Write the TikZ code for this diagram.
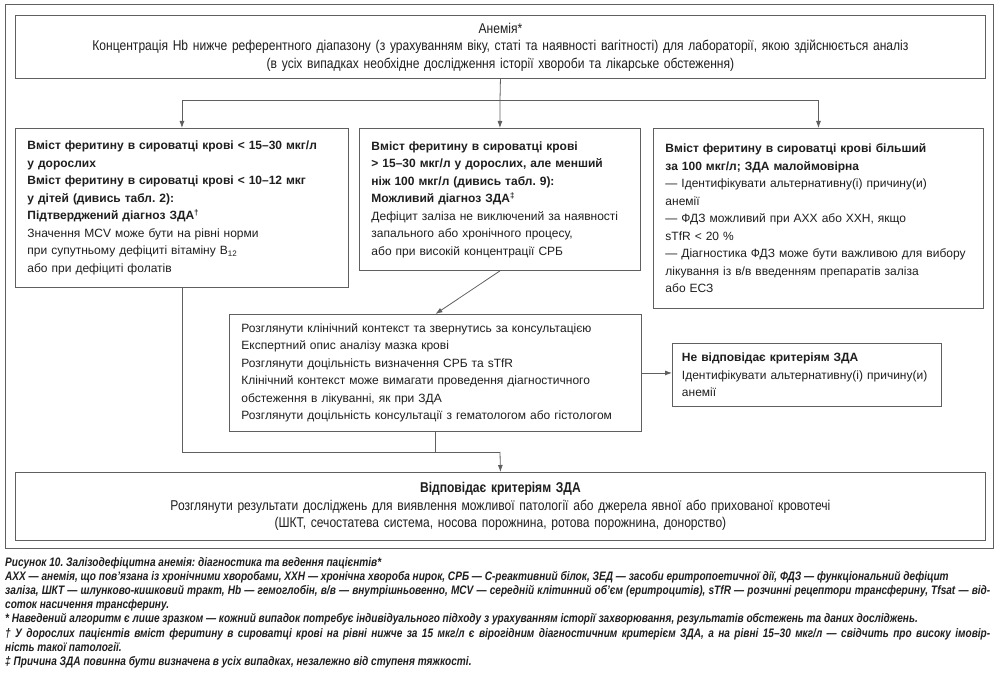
\documentclass[tikz,border=0pt]{standalone}
\usepackage{fontspec}
\setmainfont{Liberation Sans}
\newfontfamily\narrowfont[FakeStretch=0.85]{Liberation Sans}
\newfontfamily\capfont[FakeStretch=0.82]{Liberation Sans}
\usetikzlibrary{arrows.meta,positioning,calc}
\definecolor{BOX-GRAY}{RGB}{95,95,95}
\definecolor{TEXT-DARK}{RGB}{30,30,30}
\frenchspacing

\begin{document}
\begin{tikzpicture}[x=1pt,y=-1pt, >={Latex[length=7pt,width=5pt]},
  box/.style={draw=BOX-GRAY, line width=0.9pt, anchor=north west, inner xsep=12pt, inner ysep=0pt,
    align=left, text=TEXT-DARK, font=\fontsize{12}{17.5}\selectfont},
  wide/.style={draw=BOX-GRAY, line width=0.9pt, anchor=north west, inner sep=0pt, text width=946pt,
    align=center, text=TEXT-DARK, font=\narrowfont\fontsize{14.2}{17.5}\selectfont},
  link/.style={BOX-GRAY, line width=0.8pt}]
  \useasboundingbox (0,0) rectangle (1000,684);

  % Outer frame
  \draw[BOX-GRAY, line width=1pt] (5,5) rectangle (993,548);

  % Anaemia (top box)
  \node[wide, minimum width=970pt, minimum height=63pt] (anemia) at (15,15)
    {Анемія*\\
     Концентрація Hb нижче референтного діапазону (з урахуванням віку, статі та наявності вагітності) для лабораторії, якою здійснюється аналіз\\
     (в усіх випадках необхідне дослідження історії хвороби та лікарське обстеження)};

  % Three ferritin branches
  \node[box, text width=309pt, minimum height=159pt] (low) at (15,128)
    {\textbf{Вміст феритину в сироватці крові < 15–30 мкг/л}\\
     \textbf{у дорослих}\\
     \textbf{Вміст феритину в сироватці крові < 10–12 мкг}\\
     \textbf{у дітей (дивись табл. 2):}\\
     \textbf{Підтверджений діагноз ЗДА\textsuperscript{†}}\\
     Значення MCV може бути на рівні норми\\
     при супутньому дефіциті вітаміну B\textsubscript{12}\\
     або при дефіциті фолатів};
  \node[box, text width=257pt, minimum height=142pt] (mid) at (359,128)
    {\textbf{Вміст феритину в сироватці крові}\\
     \textbf{> 15–30 мкг/л у дорослих, але менший}\\
     \textbf{ніж 100 мкг/л (дивись табл. 9):}\\
     \textbf{Можливий діагноз ЗДА\textsuperscript{‡}}\\
     Дефіцит заліза не виключений за наявності\\
     запального або хронічного процесу,\\
     або при високій концентрації СРБ};
  \node[box, text width=306pt, minimum height=180pt] (high) at (653,128)
    {\textbf{Вміст феритину в сироватці крові більший}\\
     \textbf{за 100 мкг/л; ЗДА малоймовірна}\\
     — Ідентифікувати альтернативну(і) причину(и)\\
     анемії\\
     — ФДЗ можливий при АХХ або ХХН, якщо\\
     sTfR < 20 \%\\
     — Діагностика ФДЗ може бути важливою для вибору\\
     лікування із в/в введенням препаратів заліза\\
     або ЕСЗ};

  % Further assessment
  \node[box, text width=388pt, minimum height=117pt] (check) at (229,314)
    {Розглянути клінічний контекст та звернутись за консультацією\\
     Експертний опис аналізу мазка крові\\
     Розглянути доцільність визначення СРБ та sTfR\\
     Клінічний контекст може вимагати проведення діагностичного\\
     обстеження в лікуванні, як при ЗДА\\
     Розглянути доцільність консультації з гематологом або гістологом};
  \node[box, inner xsep=9.5pt, text width=250pt, minimum height=63pt] (nomatch) at (672,343)
    {\textbf{Не відповідає критеріям ЗДА}\\
     Ідентифікувати альтернативну(і) причину(и)\\
     анемії};

  % Criteria met (bottom box)
  \node[wide, minimum width=970pt, minimum height=68pt] (match) at (15,472)
    {\textbf{Відповідає критеріям ЗДА}\\
     Розглянути результати досліджень для виявлення можливої патології або джерела явної або прихованої кровотечі\\
     (ШКТ, сечостатева система, носова порожнина, ротова порожнина, донорство)};

  % Connectors
  \coordinate (split) at (500,100);
  \coordinate (join) at (500,452);
  \draw[link] (anemia.south) -- (split);
  \draw[link, ->] (split) -| (low.north);
  \draw[link, ->] (split) -- (mid.north);
  \draw[link, ->] (split) -| (high.north);
  \draw[link, ->] (mid.south) -- (check.north);
  \draw[link, ->] (check.east) -- (check.east -| nomatch.west);
  \draw[link] (low.south) |- (join);
  \draw[link] (check.south) -- (check.south |- join);
  \draw[link, ->] (join) -- (match.north);

  % Caption and footnotes
  \node[anchor=north west, inner sep=0pt, align=justify, text width=985pt, text=TEXT-DARK,
        font=\capfont\bfseries\itshape\fontsize{12.3}{14.2}\selectfont] (caption) at (5,557)
    {Рисунок 10. Залізодефіцитна анемія: діагностика та ведення пацієнтів*\\
     АХХ — анемія, що пов’язана із хронічними хворобами, ХХН — хронічна хвороба нирок, СРБ — С-реактивний білок, ЗЕД — засоби еритропоетичної дії, ФДЗ — функціональний дефіцит\\
     заліза, ШКТ — шлунково-кишковий тракт, Hb — гемоглобін, в/в — внутрішньовенно, MCV — середній клітинний об’єм (еритроцитів), sTfR — розчинні рецептори трансферину, Tfsat — від-\linebreak
     соток насичення трансферину.\\\relax
     * Наведений алгоритм є лише зразком — кожний випадок потребує індивідуального підходу з урахуванням історії захворювання, результатів обстежень та даних досліджень.\\
     † У дорослих пацієнтів вміст феритину в сироватці крові на рівні нижче за 15 мкг/л є вірогідним діагностичним критерієм ЗДА, а на рівні 15–30 мкг/л — свідчить про високу імовір-\linebreak
     ність такої патології.\\
     ‡ Причина ЗДА повинна бути визначена в усіх випадках, незалежно від ступеня тяжкості.};
\end{tikzpicture}
\end{document}
